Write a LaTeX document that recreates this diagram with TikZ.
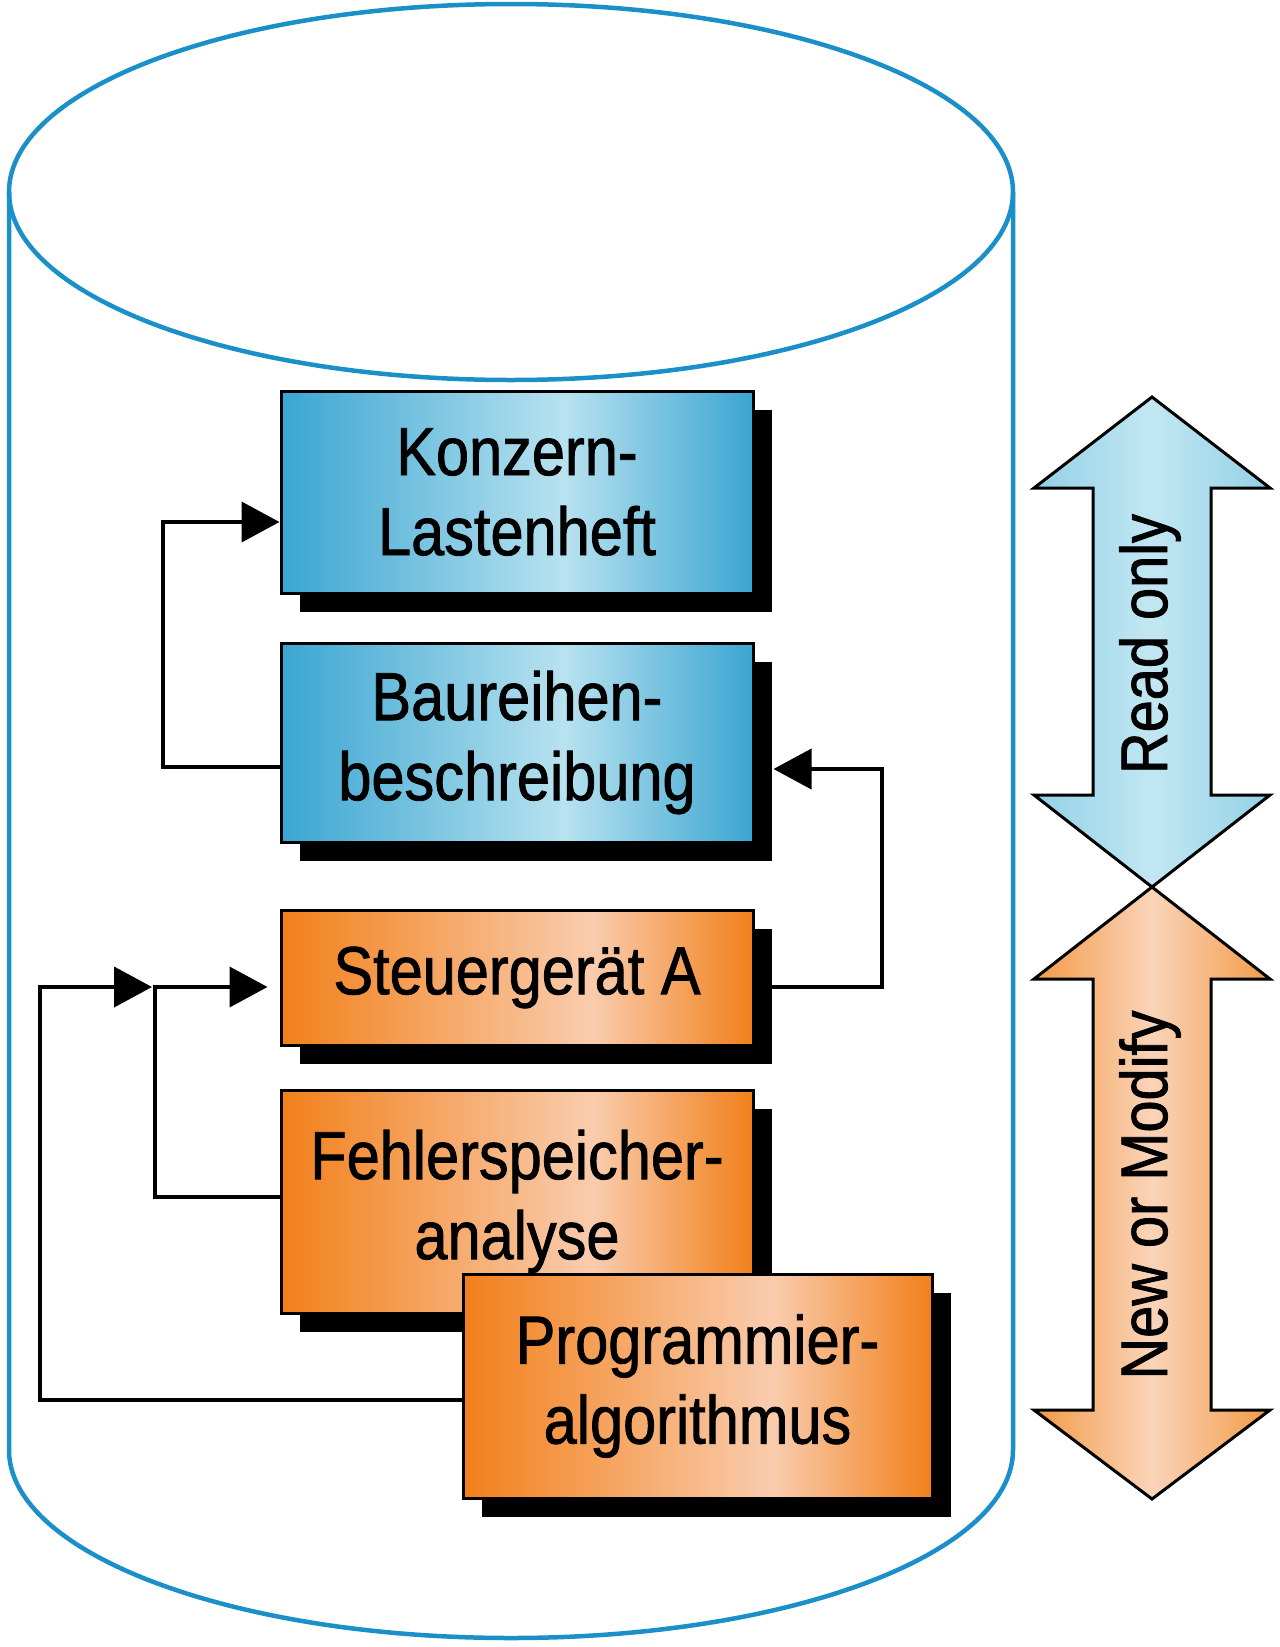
\documentclass[tikz,border=0pt]{standalone}
\usepackage{fontspec}
\setmainfont{Liberation Sans}[FakeStretch=0.875,FakeBold=1.2]
\usetikzlibrary{shadows,arrows.meta,calc}
\definecolor{cyl}{HTML}{1A8FC8}
\definecolor{bedge}{HTML}{3AA5D2}
\definecolor{bmid}{HTML}{B8E2EF}
\definecolor{oedge}{HTML}{F2801A}
\definecolor{omid}{HTML}{F9CCAE}
\definecolor{abedge}{HTML}{92D1E7}
\definecolor{abmid}{HTML}{C2E7F2}
\definecolor{aoedge}{HTML}{F39A45}
\definecolor{aomid}{HTML}{FAD4BA}
\pgfdeclarehorizontalshading{bluesh}{100bp}{color(0bp)=(bedge); color(25bp)=(bedge); color(55bp)=(bmid); color(75bp)=(bedge); color(100bp)=(bedge)}
\pgfdeclarehorizontalshading{orangesh}{100bp}{color(0bp)=(oedge); color(25bp)=(oedge); color(58bp)=(omid); color(75bp)=(oedge); color(100bp)=(oedge)}
\pgfdeclarehorizontalshading{bluearr}{100bp}{color(0bp)=(abedge); color(25bp)=(abedge); color(50bp)=(abmid); color(75bp)=(abedge); color(100bp)=(abedge)}
\pgfdeclarehorizontalshading{orangearr}{100bp}{color(0bp)=(aoedge); color(25bp)=(aoedge); color(50bp)=(aomid); color(75bp)=(aoedge); color(100bp)=(aoedge)}
\begin{document}
\begin{tikzpicture}[x=1pt,y=-1pt,
  bigfont/.style={font=\fontsize{68}{80}\selectfont},
  box/.style={draw=black, line width=3pt, minimum width=472pt, align=center, inner sep=0pt, bigfont,
    general shadow={fill=black, shadow xshift=19pt, shadow yshift=-19pt}},
  bluebox/.style={box, shading=bluesh},
  orangebox/.style={box, shading=orangesh},
  cylline/.style={draw=cyl, line width=4.5pt},
  conn/.style={line width=4pt, draw=black},
  arr/.style={conn, -{Triangle[length=38pt,width=40pt]}},
  dblarrow/.style={draw=black, line width=3pt},
  arrlabel/.style={rotate=90, font=\fontsize{66}{78}\selectfont, inner sep=0pt}
]
\useasboundingbox (0,0) rectangle (1280,1647);
\fill[white] (0,0) rectangle (1280,1647);
% cylinder
\draw[cylline] (9,192) -- (9,1450) arc[start angle=180, end angle=360, x radius=502pt, y radius=188pt] -- (1013,192);
\draw[cylline] (511,192) ellipse[x radius=502pt, y radius=188pt];
% boxes
\node[bluebox, minimum height=202pt] (b1) at (517,492) {Konzern-\\Lastenheft};
\node[bluebox, minimum height=199pt] (b2) at (517,742.5) {Baureihen-\\beschreibung};
\node[orangebox, minimum height=135pt] (b3) at (517,977.5) {Steuergerät A};
\node[orangebox, minimum height=223pt] (b4) at (517,1201.5) {Fehlerspeicher-\\analyse};
\node[orangebox, minimum height=224pt, minimum width=469pt] (b5) at (697.5,1386) {Programmier-\\algorithmus};
% connectors
\coordinate (j) at (152,987);
\draw[arr] (b2.west |- 0,767) -| (163,522) -- (b1.west |- 0,522);
\draw[arr] (b3.east |- 0,987) -| (882,769) -- ($(b2.east |- 0,769)+(19,0)$);
\draw[arr] (b4.west |- 0,1197) -| (155,987) -- ($(b3.west |- 0,987)+(-12,0)$);
\draw[arr] (b5.west |- 0,1400) -| (40,987) -- (j);
% side arrows
\draw[dblarrow, shading=bluearr] (1152,397) -- (1270,488) -- (1211,488) -- (1211,795) -- (1270,795) -- (1152,887)
  -- (1034,795) -- (1093,795) -- (1093,488) -- (1034,488) -- cycle;
\draw[dblarrow, shading=orangearr] (1152,887) -- (1270,979) -- (1211,979) -- (1211,1410) -- (1270,1410) -- (1152,1499)
  -- (1034,1410) -- (1093,1410) -- (1093,979) -- (1034,979) -- cycle;
\node[arrlabel] (t1) at (1150,644) {Read only};
\node[arrlabel] (t2) at (1150,1195) {New or Modify};
\end{tikzpicture}
\end{document}
